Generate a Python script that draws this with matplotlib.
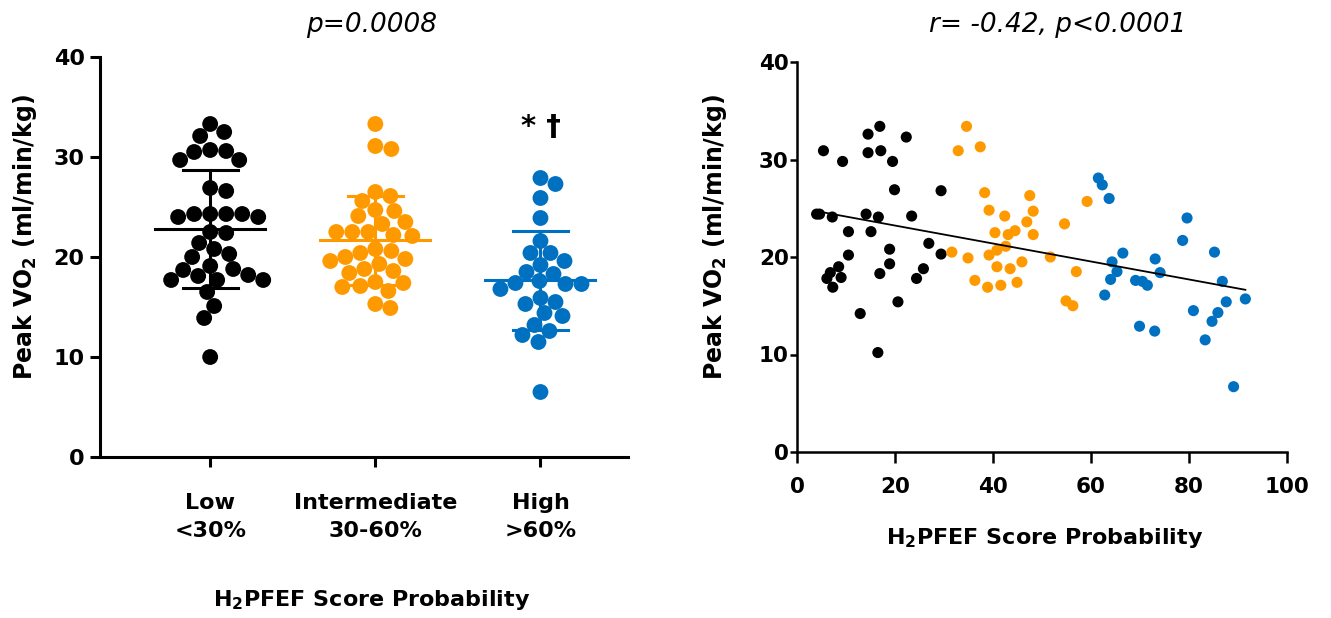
import matplotlib
matplotlib.use('Agg')
import matplotlib.pyplot as plt
import numpy as np

plt.rcParams['font.family'] = 'DejaVu Sans'
plt.rcParams['mathtext.default'] = 'bf'

# left panel: peak VO2 by H2PFEF category
groups = ['Low\n<30%', 'Intermediate\n30-60%', 'High\n>60%']
low = [33.3, 32.5, 32.1, 30.6, 30.5, 30.7, 29.7, 29.7, 26.9, 26.6, 24.3, 24.3, 24.0, 24.0,
       24.3, 24.3, 22.5, 22.4, 21.4, 20.8, 20.3, 20.0, 19.1, 18.7, 18.1, 17.7, 17.7, 17.7,
       18.2, 18.8, 16.5, 15.1, 13.9, 10.0]
mid = [33.3, 31.1, 30.8, 26.5, 26.1, 25.6, 24.6, 24.7, 24.1, 23.5, 23.3, 22.5, 22.1, 22.5,
       22.5, 22.2, 20.8, 20.6, 20.4, 19.8, 20.0, 19.6, 19.3, 18.6, 18.4, 18.8, 17.5, 17.4,
       17.1, 16.6, 17.0, 14.9, 15.3]
high = [27.9, 27.3, 25.9, 23.9, 21.6, 20.4, 20.4, 19.6, 19.2, 18.3, 18.5, 17.4, 17.3, 16.8,
        17.3, 17.6, 15.9, 15.3, 15.5, 14.1, 14.4, 13.2, 12.2, 12.6, 11.5, 6.5]
means = [22.8, 21.7, 17.7]
sds = [5.9, 4.45, 4.95]

# right panel: scatter by score probability
blk_x = [16.9, 14.5, 22.3, 5.4, 14.5, 17.1, 9.3, 19.5, 19.9, 29.4, 4.0, 4.6, 7.2, 14.1, 16.6,
         23.4, 10.5, 15.1, 18.9, 26.9, 29.4, 10.5, 8.5, 18.9, 6.8, 6.1, 9.0, 16.9, 25.8, 24.4,
         7.3, 20.6, 12.9, 16.5]
blk_y = [33.4, 32.6, 32.3, 30.9, 30.7, 30.9, 29.8, 29.8, 26.9, 26.8, 24.4, 24.4, 24.1, 24.4,
         24.1, 24.2, 22.6, 22.6, 20.8, 21.4, 20.3, 20.2, 19.0, 19.3, 18.4, 17.8, 17.9, 18.3,
         18.8, 17.8, 16.9, 15.4, 14.2, 10.2]
org_x = [34.6, 32.9, 37.4, 38.3, 47.5, 39.2, 48.2, 42.4, 46.9, 40.4, 43.1, 44.5, 48.2, 31.6,
         34.9, 39.2, 40.8, 42.6, 40.8, 43.5, 45.9, 36.3, 38.9, 41.6, 44.9, 51.7, 59.2, 54.6,
         57.0, 54.9, 56.3]
org_y = [33.4, 30.9, 31.3, 26.6, 26.3, 24.8, 24.7, 24.2, 23.6, 22.5, 22.3, 22.7, 22.3, 20.5,
         19.9, 20.2, 20.7, 21.1, 19.0, 18.8, 19.5, 17.6, 16.9, 17.1, 17.4, 20.0, 25.7, 23.4,
         18.5, 15.5, 15.0]
blu_x = [61.5, 62.3, 63.7, 79.6, 78.7, 66.5, 85.2, 64.3, 65.3, 64.0, 73.1, 74.1, 69.1, 70.5,
         71.5, 86.8, 62.8, 91.5, 87.6, 80.9, 85.9, 84.7, 69.9, 73.0, 83.3, 89.1]
blu_y = [28.1, 27.4, 26.0, 24.0, 21.7, 20.4, 20.5, 19.5, 18.5, 17.7, 19.8, 18.4, 17.6, 17.5,
         17.1, 17.5, 16.1, 15.7, 15.4, 14.5, 14.3, 13.4, 12.9, 12.4, 11.5, 6.7]

BLACK = '#000000'
ORANGE = '#FF9900'
BLUE = '#0070C0'
colors = [BLACK, ORANGE, BLUE]


def swarm(vals, xpx, ypx, gap=15.5):
    # simple beeswarm: offsets in data units, xpx/ypx = pixels per unit
    offs = np.zeros(len(vals))
    placed = []
    cands = [0.0]
    for k in range(1, 90):
        cands += [k * 1.0, -k * 1.0]
    for i in np.argsort(vals)[::-1]:
        y = vals[i] * ypx
        for c in cands:
            if all((c - px) ** 2 + (y - py) ** 2 >= gap ** 2 for px, py in placed):
                break
        placed.append((c, y))
        offs[i] = c / xpx
    return offs


fig = plt.figure(figsize=(13.31, 6.18), dpi=100)

# ---------- left panel ----------
ax1 = fig.add_axes([100 / 1331, 161 / 618, 528 / 1331, 400 / 618])
xpx, ypx = 165.0, 10.0
for i, (vals, col) in enumerate(zip([low, mid, high], colors)):
    xs = i + swarm(np.array(vals), xpx, ypx)
    ax1.scatter(xs, vals, s=130, color=col, edgecolors='none', zorder=3, clip_on=False)
    m, sd = means[i], sds[i]
    ax1.plot([i - 0.333, i + 0.333], [m, m], color=col, lw=2.2, zorder=4)
    ax1.plot([i, i], [m - sd, m + sd], color=col, lw=2.2, zorder=4)
    ax1.plot([i - 0.167, i + 0.167], [m + sd, m + sd], color=col, lw=2.2, zorder=4)
    ax1.plot([i - 0.167, i + 0.167], [m - sd, m - sd], color=col, lw=2.2, zorder=4)

ax1.text(2, 33.0, '* \u2020', ha='center', va='center', fontsize=21, fontweight='bold')
ax1.set_xlim(-0.667, 2.53)
ax1.set_ylim(0, 40)
ax1.set_xticks([0, 1, 2])
ax1.set_xticklabels(groups, fontsize=16, fontweight='bold', linespacing=1.5)
ax1.set_yticks([0, 10, 20, 30, 40])
ax1.set_yticklabels(['0', '10', '20', '30', '40'], fontsize=16, fontweight='bold')
ax1.tick_params(axis='y', length=7, width=2.2, pad=4)
ax1.tick_params(axis='x', length=7, width=2.2, pad=19)
for s in ['top', 'right']:
    ax1.spines[s].set_visible(False)
for s in ['left', 'bottom']:
    ax1.spines[s].set_linewidth(2.2)
ax1.set_ylabel('Peak VO$_2$ (ml/min/kg)', fontsize=17, fontweight='bold')
ax1.yaxis.label.set_va('center')
ax1.yaxis.set_label_coords(-0.142, 0.55)
ax1.set_xlabel('H$_2$PFEF Score Probability', fontsize=16, fontweight='bold')
ax1.xaxis.label.set_va('center')
ax1.xaxis.set_label_coords(0.515, -0.3575)
fig.text(372 / 1331, 1 - 25 / 618, 'p=0.0008', fontsize=19, style='italic',
         ha='center', va='center')

# ---------- right panel ----------
ax2 = fig.add_axes([797 / 1331, 166 / 618, 490 / 1331, 390 / 618])
ax2.scatter(blk_x, blk_y, s=64, color=BLACK, edgecolors='none', zorder=3, clip_on=False)
ax2.scatter(org_x, org_y, s=64, color=ORANGE, edgecolors='none', zorder=3, clip_on=False)
ax2.scatter(blu_x, blu_y, s=64, color=BLUE, edgecolors='none', zorder=3, clip_on=False)

all_x = np.array(blk_x + org_x + blu_x)
all_y = np.array(blk_y + org_y + blu_y)
slope, icpt = np.polyfit(all_x, all_y, 1)
fx = np.array([all_x.min(), all_x.max()])
ax2.plot(fx, slope * fx + icpt, color='black', lw=1.3, zorder=4)

ax2.set_xlim(0, 100)
ax2.set_ylim(0, 40)
ax2.set_xticks([0, 20, 40, 60, 80, 100])
ax2.set_xticklabels(['0', '20', '40', '60', '80', '100'], fontsize=15.5, fontweight='bold')
ax2.set_yticks([0, 10, 20, 30, 40])
ax2.set_yticklabels(['0', '10', '20', '30', '40'], fontsize=15.5, fontweight='bold')
ax2.tick_params(axis='y', length=5, width=1.8, pad=1)
ax2.tick_params(axis='x', length=8, width=1.8, pad=10)
for s in ['top', 'right']:
    ax2.spines[s].set_visible(False)
for s in ['left', 'bottom']:
    ax2.spines[s].set_linewidth(1.8)
ax2.set_ylabel('Peak VO$_2$ (ml/min/kg)', fontsize=17, fontweight='bold')
ax2.yaxis.label.set_va('center')
ax2.yaxis.set_label_coords(-0.167, 0.55)
ax2.set_xlabel('H$_2$PFEF Score Probability', fontsize=16, fontweight='bold')
ax2.xaxis.label.set_va('center')
ax2.xaxis.set_label_coords(0.506, -0.22)
fig.text(1058 / 1331, 1 - 25 / 618, 'r= -0.42, p<0.0001', fontsize=19, style='italic',
         ha='center', va='center')

fig.savefig('out.png', dpi=100)
